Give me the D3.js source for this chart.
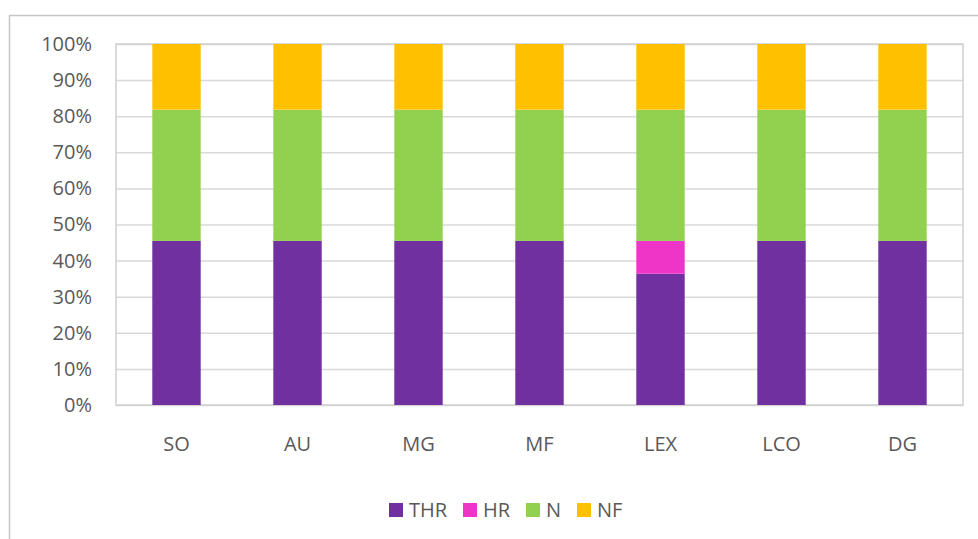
<!DOCTYPE html>
<html>
<head>
<meta charset="utf-8">
<script src="https://cdn.jsdelivr.net/npm/d3@7"></script>
<style>
  body { margin: 0; background: #fff; }
  svg { display: block; font-family: "Open Sans", sans-serif; }
</style>
</head>
<body>
<div id="chart"></div>
<script>
// counts per category (stacked to 100%)
var categories = ["SO", "AU", "MG", "MF", "LEX", "LCO", "DG"];
var keys = ["THR", "HR", "N", "NF"];
var thr = [5, 5, 5, 5, 4, 5, 5];
var hr  = [0, 0, 0, 0, 1, 0, 0];
var n   = [4, 4, 4, 4, 4, 4, 4];
var nf  = [2, 2, 2, 2, 2, 2, 2];
var colors = ["#7030A0", "#EE35C8", "#92D050", "#FFC000"];
var yTicks = [0, 0.1, 0.2, 0.3, 0.4, 0.5, 0.6, 0.7, 0.8, 0.9, 1];

var W = 978, H = 539;
var margin = {top: 44, right: 15, bottom: 134, left: 116},
    width = W - margin.left - margin.right,
    height = H - margin.top - margin.bottom;

var data = categories.map(function (c, i) {
  return {cat: c, THR: thr[i], HR: hr[i], N: n[i], NF: nf[i]};
});

var svg = d3.select("#chart").append("svg")
  .attr("width", W)
  .attr("height", H);

// outer chart border
svg.append("rect")
  .attr("x", 9.5).attr("y", 15.5)
  .attr("width", W + 20).attr("height", H + 20)
  .attr("fill", "none")
  .attr("stroke", "#c6c6c6")
  .attr("stroke-width", 1.5);

var g = svg.append("g")
  .attr("transform", "translate(" + margin.left + "," + margin.top + ")");

var x = d3.scaleBand()
  .domain(categories)
  .range([0, width])
  .paddingInner(0.6)
  .paddingOuter(0.3);

var y = d3.scaleLinear()
  .domain([0, 1])
  .range([height, 0]);

var z = d3.scaleOrdinal().domain(keys).range(colors);

// gridlines
g.append("g")
  .attr("class", "grid")
  .call(d3.axisLeft(y).tickValues(yTicks).tickSize(-width).tickFormat(""))
  .call(function (s) {
    s.select(".domain").remove();
    s.selectAll("line").attr("stroke", "#d9d9d9").attr("stroke-width", 1.5);
  });

// plot area border
g.append("rect")
  .attr("x", 0).attr("y", 0)
  .attr("width", width).attr("height", height)
  .attr("fill", "none")
  .attr("stroke", "#d0d0d0")
  .attr("stroke-width", 1.5);

var stack = d3.stack().keys(keys).offset(d3.stackOffsetExpand);

g.selectAll(".serie")
  .data(stack(data))
  .enter().append("g")
  .attr("class", "serie")
  .attr("fill", function (d) { return z(d.key); })
  .selectAll("rect")
  .data(function (d) { return d; })
  .enter().append("rect")
  .attr("x", function (d) { return x(d.data.cat); })
  .attr("y", function (d) { return y(d[1]); })
  .attr("width", x.bandwidth())
  .attr("height", function (d) { return y(d[0]) - y(d[1]); });

// y axis labels
g.append("g")
  .call(d3.axisLeft(y).tickValues(yTicks).tickSize(0).tickPadding(24).tickFormat(d3.format(".0%")))
  .call(function (s) {
    s.select(".domain").remove();
    s.selectAll("text").attr("fill", "#595959").style("font-size", "20px").style("font-family", "Open Sans");
  });

// x axis labels
g.append("g")
  .attr("transform", "translate(0," + height + ")")
  .call(d3.axisBottom(x).tickSize(0).tickPadding(32))
  .call(function (s) {
    s.select(".domain").remove();
    s.selectAll("text").attr("fill", "#595959").style("font-size", "20px").style("font-family", "Open Sans");
  });

// legend
var legendX = [389, 463, 526, 577];
var legend = svg.append("g").attr("transform", "translate(0,503)");
var item = legend.selectAll(".item")
  .data(keys)
  .enter().append("g")
  .attr("class", "item")
  .attr("transform", function (d, i) { return "translate(" + legendX[i] + ",0)"; });
item.append("rect")
  .attr("width", 14).attr("height", 14)
  .attr("fill", function (d) { return z(d); });
item.append("text")
  .attr("x", 20)
  .attr("y", 7)
  .attr("dy", "0.36em")
  .attr("fill", "#595959")
  .style("font-size", "20px")
  .text(function (d) { return d; });
</script>
</body>
</html>
